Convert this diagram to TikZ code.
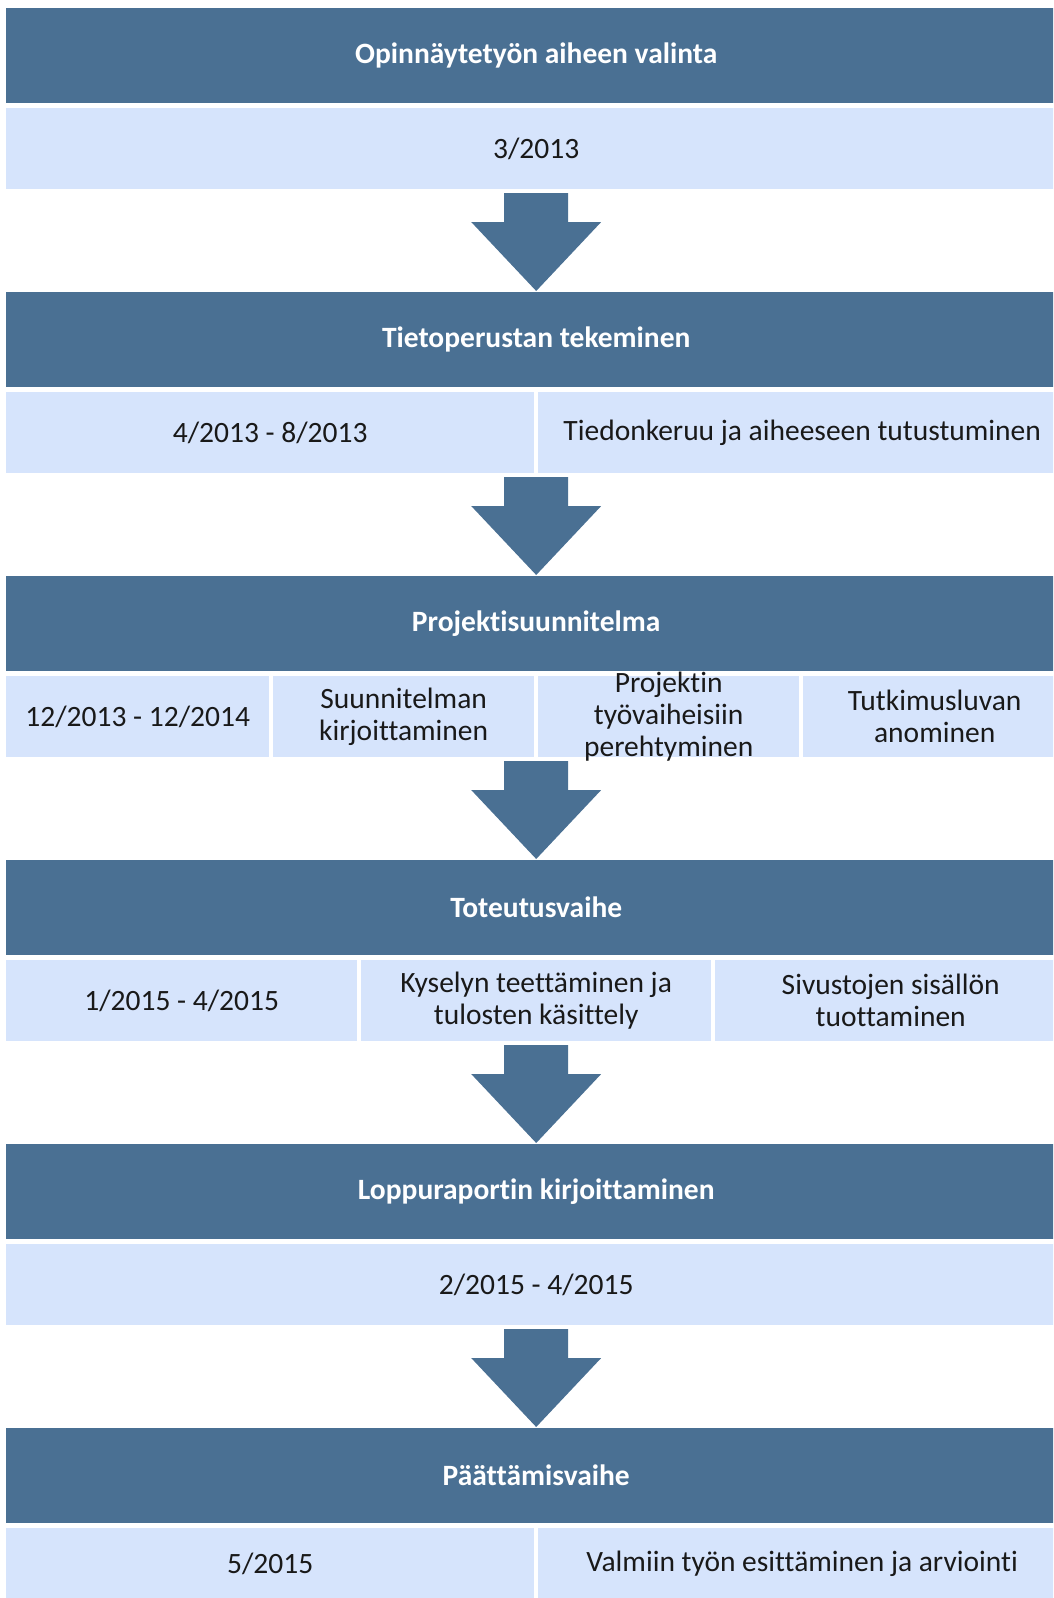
\documentclass[tikz,border=0pt]{standalone}
\usepackage{fontspec}
\setmainfont{Carlito}[Ligatures=NoCommon]
\definecolor{hdrblue}{RGB}{74,112,147}
\definecolor{cellblue}{RGB}{214,228,252}
\definecolor{txtdark}{RGB}{25,25,25}
\begin{document}
\begin{tikzpicture}[x=1pt,y=-1pt,
  hdr/.style={fill=hdrblue, text=white, font=\fontsize{29.5}{32}\selectfont\bfseries,
    minimum width=1060pt, minimum height=95pt, inner sep=0pt, anchor=north west},
  cellbox/.style={fill=cellblue, text=txtdark, font=\fontsize{29.5}{32}\selectfont,
    minimum width=#1, minimum height=81pt, inner sep=0pt, anchor=north west, align=center},
  celltext/.style={text=txtdark, font=\fontsize{29.5}{32}\selectfont, inner sep=0pt, align=center},
  arr/.style={fill=hdrblue}]
\useasboundingbox (0,0) rectangle (1053,1598);
\clip (0,0) rectangle (1053,1598);
% row 1
\node[hdr] (H1) at (6,8) {Opinnäytetyön aiheen valinta};
\node[cellbox=1060pt] (C11) at (6,108) {3/2013};
% row 2
\node[hdr] (H2) at (6,292) {Tietoperustan tekeminen};
\node[cellbox=528pt] (C21) at (6,392) {4/2013 - 8/2013};
\node[cellbox=528pt] (C22) at (538,392) {Tiedonkeruu ja aiheeseen tutustuminen};
% row 3
\node[hdr] (H3) at (6,576) {Projektisuunnitelma};
\node[cellbox=263pt] (C31) at (6,676) {12/2013 - 12/2014};
\node[cellbox=261pt] (C32) at (273,676) {Suunnitelman\\kirjoittaminen};
\node[cellbox=261pt] (C33) at (538,676) {};
\node[cellbox=263pt] (C34) at (803,676) {Tutkimusluvan\\anominen};
% row 4
\node[hdr] (H4) at (6,860) {Toteutusvaihe};
\node[cellbox=351pt] (C41) at (6,960) {1/2015 - 4/2015};
\node[cellbox=350pt] (C42) at (361,960) {Kyselyn teettäminen ja\\tulosten käsittely};
\node[cellbox=351pt] (C43) at (715,960) {Sivustojen sisällön\\tuottaminen};
% row 5
\node[hdr] (H5) at (6,1144) {Loppuraportin kirjoittaminen};
\node[cellbox=1060pt] (C51) at (6,1244) {2/2015 - 4/2015};
% row 6
\node[hdr] (H6) at (6,1428) {Päättämisvaihe};
\node[cellbox=528pt, minimum height=72pt] (C61) at (6,1528) {5/2015};
\node[cellbox=528pt, minimum height=72pt] (C62) at (538,1528) {Valmiin työn esittäminen ja arviointi};
% arrows
\foreach \h in {H1,H2,H3,H4,H5}{
  \fill[arr] ([shift={(-32,185)}]\h.north) -- ([shift={(32,185)}]\h.north)
    -- ([shift={(32,214)}]\h.north) -- ([shift={(65,214)}]\h.north)
    -- ([shift={(0,283)}]\h.north) -- ([shift={(-65,214)}]\h.north)
    -- ([shift={(-32,214)}]\h.north) -- cycle;
}
% overflowing text of the third cell, on top of the arrow
\node[celltext] (C33t) at (C33.center) {Projektin\\työvaiheisiin\\perehtyminen};
\end{tikzpicture}
\end{document}
